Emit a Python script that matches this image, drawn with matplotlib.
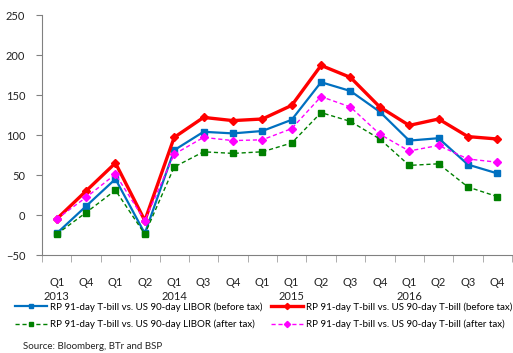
import matplotlib
matplotlib.use("Agg")
import matplotlib.pyplot as plt
import matplotlib.transforms as mtransforms
from matplotlib.ticker import FixedLocator, NullFormatter

plt.rcParams['font.family'] = ['Lato', 'DejaVu Sans']

quarters = ["Q1", "Q4", "Q1", "Q2", "Q1", "Q3", "Q4", "Q1",
            "Q1", "Q2", "Q3", "Q4", "Q1", "Q2", "Q3", "Q4"]
years = {0: "2013", 4: "2014", 8: "2015", 12: "2016"}

libor_before = [-23, 11, 45, -23, 81, 104, 102, 105, 119, 166, 155, 129, 93, 96, 63, 52]
tbill_before = [-5, 30, 65, -7, 97, 122, 118, 120, 137, 187, 172, 135, 112, 120, 98, 95]
libor_after = [-24, 3, 31, -24, 60, 79, 77, 79, 90, 128, 117, 95, 62, 64, 35, 23]
tbill_after = [-5, 22, 51, -7, 76, 97, 93, 94, 108, 148, 135, 101, 80, 87, 70, 66]

W, H = 513, 353
fig = plt.figure(figsize=(W / 100, H / 100), dpi=100)
ax = fig.add_axes([42 / W, (H - 255) / H, 470 / W, 240 / H])

x = list(range(len(quarters)))
h1, = ax.plot(x, libor_before, color="#0070C0", lw=1.6, marker="s", ms=4.5,
              label="RP 91-day T-bill vs. US 90-day LIBOR (before tax)")
h2, = ax.plot(x, tbill_before, color="#FF0000", lw=2.4, marker="D", ms=4.5,
              label="RP 91-day T-bill vs. US 90-day T-bill (before tax)")
h3, = ax.plot(x, libor_after, color="#008000", lw=1.0, ls=(0, (3, 2)), marker="s", ms=4.5,
              label="RP 91-day T-bill vs. US 90-day LIBOR (after tax)")
h4, = ax.plot(x, tbill_after, color="#FF00FF", lw=1.0, ls=(0, (3, 2)), marker="D", ms=4.5,
              label="RP 91-day T-bill vs. US 90-day T-bill (after tax)")

ax.set_xlim(-0.5, len(quarters) - 0.5)
ax.set_ylim(-50, 250)
ax.set_yticks(range(-50, 251, 50))

ax.set_xticks(x)
ax.set_xticklabels(quarters, fontsize=8, color="#222222")
ax.tick_params(axis="x", length=0, pad=15.5)
ax.xaxis.set_minor_locator(FixedLocator([i - 0.5 for i in range(len(quarters) + 1)]))
ax.xaxis.set_minor_formatter(NullFormatter())
ax.tick_params(axis="x", which="minor", length=5, color="#A0A0A0", direction="out")
ax.tick_params(axis="y", labelsize=8, labelcolor="#222222", length=4, color="#808080", pad=8)

# year labels on a second row under the first quarter of each year
year_tf = mtransforms.blended_transform_factory(ax.transData, fig.transFigure)
for i, yr in years.items():
    ax.text(i, (H - 296) / H, yr, transform=year_tf, ha="center", va="center",
            fontsize=8, color="#222222")

for s in ("top", "right"):
    ax.spines[s].set_visible(False)
for s in ("left", "bottom"):
    ax.spines[s].set_color("#808080")

# legend fills column-first, so order handles to get blue/red on the first row
fig.legend(handles=[h1, h3, h2, h4], ncol=2, loc="upper left",
           bbox_to_anchor=(15 / W, (H - 302) / H), frameon=False, fontsize=7,
           handlelength=3.3, handletextpad=0.3, columnspacing=0.9,
           labelspacing=0.85, borderaxespad=0, borderpad=0, markerscale=0.7)

fig.text(23 / W, (H - 346.5) / H, "Source: Bloomberg, BTr and BSP", fontsize=7,
         va="center", ha="left", color="#222222")

fig.savefig("out.png", dpi=100)
